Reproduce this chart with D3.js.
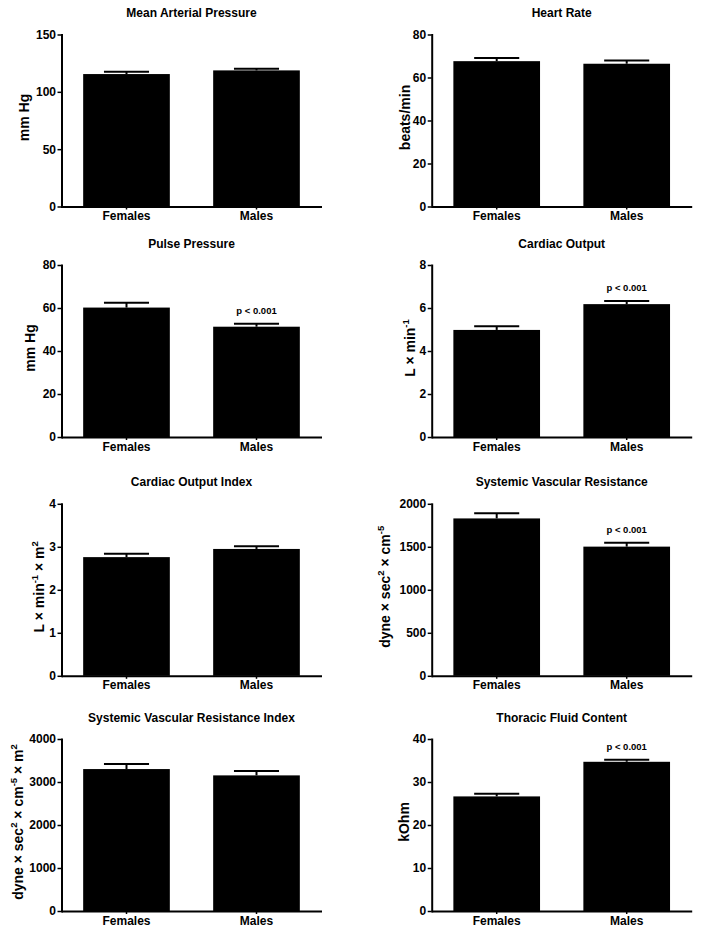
<!DOCTYPE html>
<html><head><meta charset="utf-8">
<script src="https://cdn.jsdelivr.net/npm/d3@7"></script>
<style>
body{margin:0;background:#fff}
text{font-family:"Liberation Sans",Arial,Helvetica,sans-serif;font-weight:bold;fill:#000}
</style>
</head><body>
<svg id="chart" width="701" height="933"></svg>
<script>
// ---------- data ----------
const categories = ["Females", "Males"];
const titles = ["Mean Arterial Pressure", "Heart Rate", "Pulse Pressure", "Cardiac Output",
  "Cardiac Output Index", "Systemic Vascular Resistance", "Systemic Vascular Resistance Index", "Thoracic Fluid Content"];
const femaleMeans = [115.5, 67.6, 60.2, 4.98, 2.76, 1830, 3301, 26.65];
const femaleSEM   = [2.0, 1.5, 2.3, 0.17, 0.08, 61, 116, 0.6];
const maleMeans   = [118.7, 66.4, 51.3, 6.18, 2.95, 1502, 3154, 34.7];
const maleSEM     = [1.5, 1.5, 1.4, 0.15, 0.06, 46, 100, 0.5];
const yTicks = [[0, 50, 100, 150], [0, 20, 40, 60, 80], [0, 20, 40, 60, 80], [0, 2, 4, 6, 8],
  [0, 1, 2, 3, 4], [0, 500, 1000, 1500, 2000], [0, 1000, 2000, 3000, 4000], [0, 10, 20, 30, 40]];
const pLabels = ["", "", "p < 0.001", "p < 0.001", "", "p < 0.001", "", "p < 0.001"];
// y-axis titles as [text, isSuperscript] segments
const yLabels = [
  [["mm Hg", 0]],
  [["beats/min", 0]],
  [["mm Hg", 0]],
  [["L × min", 0], ["-1", 1]],
  [["L × min", 0], ["-1", 1], [" × m", 0], ["2", 1]],
  [["dyne × sec", 0], ["2", 1], [" × cm", 0], ["-5", 1]],
  [["dyne × sec", 0], ["2", 1], [" × cm", 0], ["-5", 1], [" × m", 0], ["2", 1]],
  [["kOhm", 0]]
];

// ---------- layout ----------
const colX = [61.5, 431.7];
const rowTop = [34.5, 265, 503.8, 739];
const plotW = 260, plotH = 172;
const labelX = [29.3, 410, 34.7, 415, 44.3, 389.7, 23, 409.3];

const svg = d3.select("#chart");

titles.forEach((title, i) => {
  const ax = colX[i % 2];
  const top = rowTop[Math.floor(i / 2)];
  const g = svg.append("g");
  const x = d3.scaleBand().domain(categories).range([ax, ax + plotW]).paddingInner(1 / 3).paddingOuter(1 / 6);
  const ticks = yTicks[i];
  const y = d3.scaleLinear().domain([0, ticks[ticks.length - 1]]).range([top + plotH, top]);
  const means = [femaleMeans[i], maleMeans[i]];
  const sems = [femaleSEM[i], maleSEM[i]];

  // title
  g.append("text").attr("x", ax + plotW / 2).attr("y", top - 17.5)
    .attr("text-anchor", "middle").attr("font-size", 12).text(title);

  // bars
  g.selectAll("rect.bar").data(categories).join("rect")
    .attr("x", c => x(c)).attr("width", x.bandwidth())
    .attr("y", (c, j) => y(means[j])).attr("height", (c, j) => y(0) - y(means[j]))
    .attr("fill", "#000");

  // error bars (upper)
  const capW = x.bandwidth() * 0.52;
  categories.forEach((c, j) => {
    const cx = x(c) + x.bandwidth() / 2;
    const yt = y(means[j] + sems[j]);
    g.append("line").attr("x1", cx).attr("x2", cx).attr("y1", y(means[j])).attr("y2", yt)
      .attr("stroke", "#000").attr("stroke-width", 2);
    g.append("line").attr("x1", cx - capW / 2).attr("x2", cx + capW / 2).attr("y1", yt).attr("y2", yt)
      .attr("stroke", "#000").attr("stroke-width", 2);
  });

  // p label
  if (pLabels[i]) {
    const c = categories[1];
    g.append("text").attr("x", x(c) + x.bandwidth() / 2).attr("y", y(means[1] + sems[1]) - 10)
      .attr("text-anchor", "middle").attr("font-size", 9.5).text(pLabels[i]);
  }

  // y axis
  const ya = g.append("g").attr("transform", `translate(${ax},0)`)
    .call(d3.axisLeft(y).tickValues(ticks).tickFormat(d3.format("d")).tickSize(4).tickSizeOuter(0).tickPadding(1.5));
  ya.select(".domain").attr("stroke-width", 2).attr("stroke-linecap", "square");
  ya.selectAll(".tick line").attr("stroke-width", 1.5);
  ya.selectAll(".tick text").attr("font-size", 12).attr("font-family", null);
  ya.attr("font-family", null);

  // x axis
  const xa = g.append("g").attr("transform", `translate(0,${y(0)})`)
    .call(d3.axisBottom(x).tickSize(3).tickSizeOuter(0).tickPadding(2));
  xa.select(".domain").attr("stroke-width", 2);
  xa.selectAll(".tick line").attr("stroke-width", 1.5);
  xa.selectAll(".tick text").attr("font-size", 12);
  xa.attr("font-family", null);

  // y axis title
  const t = g.append("text").attr("text-anchor", "middle").attr("font-size", 14)
    .attr("transform", `translate(${labelX[i]},${top + plotH / 2 - 3}) rotate(-90)`);
  let shifted = false;
  yLabels[i].forEach(([s, sup]) => {
    const ts = t.append("tspan").text(s);
    if (sup && !shifted) { ts.attr("font-size", 9.5).attr("dy", -6); shifted = true; }
    else if (!sup && shifted) { ts.attr("dy", 6); shifted = false; }
  });
});
</script>
</body></html>
